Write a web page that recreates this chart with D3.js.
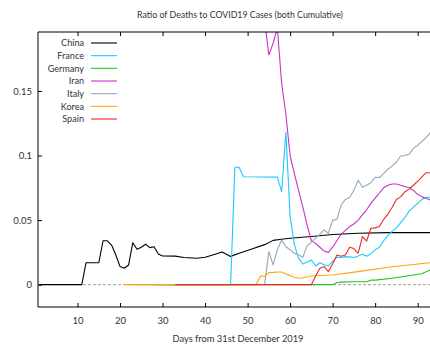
<!DOCTYPE html>
<html>
<meta charset="utf-8">
<style>
  body { margin: 0; background: #fff; }
  text { font-family: Lato, "Open Sans", sans-serif; fill: #333; }
  .series { fill: none; stroke-width: 1.1; stroke-linejoin: round; }
</style>
<body>
<script src="https://d3js.org/d3.v7.min.js"></script>
<script>
  let width = 430, height = 352;

  // [day, deaths / cases]
  let china = [[1,0],[11,0],[12,0.017],[15,0.017],[16,0.034],[17,0.034],[18,0.0307],[19,0.023],[20,0.014],
    [21,0.0127],[22,0.0152],[23,0.0325],[24,0.0274],[25,0.029],[26,0.0313],[27,0.0287],[28,0.0294],
    [29,0.0238],[30,0.0222],[33,0.0221],[35,0.021],[38,0.0204],[40,0.0212],[42,0.0232],[44,0.0253],
    [46,0.0219],[48,0.0243],[51,0.0276],[54,0.031],[56,0.0343],[58,0.0352],[60,0.036],[65,0.0373],
    [70,0.0388],[76,0.0398],[83,0.0403],[93,0.0403]];
  let france = [[24,0],[46,0],[47,0.0909],[48,0.0909],[49,0.0836],[57,0.0833],[58,0.072],[59,0.118],
    [60,0.0527],[61,0.031],[62,0.0204],[63,0.016],[64,0.0175],[65,0.019],[66,0.0145],[67,0.017],
    [68,0.0155],[69,0.0145],[70,0.018],[71,0.0212],[72,0.021],[73,0.0217],[74,0.0215],[75,0.021],
    [76,0.0222],[77,0.0235],[78,0.022],[79,0.024],[80,0.027],[81,0.029],[82,0.034],[83,0.038],
    [84,0.0415],[85,0.044],[86,0.048],[87,0.052],[88,0.057],[89,0.06],[90,0.063],[91,0.066],
    [92,0.0677],[93,0.0677]];
  let germany = [[28,0],[70,0],[71,0.0015],[72,0.002],[75,0.0023],[78,0.0023],[79,0.0035],[80,0.0035],
    [84,0.005],[89,0.0075],[91,0.0085],[92,0.01],[93,0.0114]];
  let iran = [[50,1],[51,0.4],[52,0.3],[53,0.22],[54,0.204],[55,0.178],[56,0.187],[57,0.199],[58,0.156],
    [59,0.132],[60,0.1],[61,0.086],[62,0.073],[63,0.06],[64,0.046],[65,0.034],[66,0.032],[67,0.029],
    [68,0.026],[69,0.025],[70,0.029],[71,0.034],[72,0.039],[73,0.042],[74,0.045],[75,0.047],[76,0.05],
    [77,0.054],[78,0.058],[79,0.063],[80,0.067],[81,0.071],[82,0.075],[83,0.077],[84,0.078],[85,0.078],
    [86,0.077],[87,0.076],[88,0.075],[89,0.073],[90,0.07],[91,0.068],[92,0.067],[93,0.0655]];
  let italy = [[31,0],[54,0],[55,0.0256],[56,0.0153],[57,0.027],[58,0.0346],[59,0.0294],[60,0.027],
    [61,0.0243],[62,0.023],[63,0.0212],[64,0.03],[65,0.033],[66,0.036],[67,0.039],[68,0.0424],
    [69,0.0398],[70,0.05],[71,0.0506],[72,0.0617],[73,0.066],[74,0.0677],[75,0.073],[76,0.081],
    [77,0.0754],[78,0.077],[79,0.079],[80,0.0832],[81,0.083],[82,0.086],[83,0.0894],[84,0.092],
    [85,0.095],[86,0.0997],[87,0.1],[88,0.101],[89,0.1056],[90,0.108],[91,0.111],[92,0.114],[93,0.1177]];
  let korea = [[21,0],[52,0],[53,0.0067],[54,0.0065],[55,0.0093],[56,0.0095],[57,0.0098],[58,0.0098],
    [59,0.0083],[60,0.007],[61,0.0058],[62,0.005],[63,0.0053],[64,0.006],[65,0.0067],[70,0.0075],
    [76,0.0101],[84,0.0139],[93,0.017]];
  let spain = [[33,0],[65,0],[66,0.0067],[67,0.0127],[68,0.014],[69,0.0101],[70,0.016],[71,0.023],
    [72,0.022],[73,0.023],[74,0.029],[75,0.028],[76,0.0243],[77,0.0372],[78,0.0338],[79,0.0437],
    [80,0.044],[81,0.045],[82,0.0506],[83,0.0547],[84,0.06],[85,0.066],[86,0.068],[87,0.072],
    [88,0.074],[89,0.077],[90,0.08],[91,0.0835],[92,0.0867],[93,0.0867]];

  let countries = ["China", "France", "Germany", "Iran", "Italy", "Korea", "Spain"];
  let seriesData = [china, france, germany, iran, italy, korea, spain];
  let colors = ["#000000", "#1ec8ff", "#1ec81e", "#c832c8", "#94a8b8", "#ffa50a", "#f0281e"];
  let xTicks = [10, 20, 30, 40, 50, 60, 70, 80, 90];
  let yTicks = [0, 0.05, 0.1, 0.15];

  let plotLeft = 38, plotTop = 32, plotRight = 431, plotBottom = 307;

  let x = d3.scaleLinear().domain([0.7, 92.9]).range([plotLeft, 430]);
  let y = d3.scaleLinear().domain([-0.0173, 0.1957]).range([plotBottom, plotTop]);

  let svg = d3.select("body").append("svg")
    .attr("width", width)
    .attr("height", height);

  svg.append("clipPath").attr("id", "plot")
    .append("rect")
    .attr("x", plotLeft).attr("y", plotTop)
    .attr("width", plotRight - plotLeft).attr("height", plotBottom - plotTop);

  // zero axis
  svg.append("line")
    .attr("x1", plotLeft).attr("x2", plotRight)
    .attr("y1", y(0)).attr("y2", y(0))
    .attr("stroke", "#a0a0a0")
    .attr("stroke-dasharray", "3,2");

  let line = d3.line()
    .x(d => x(d[0]))
    .y(d => y(d[1]));

  svg.append("g").attr("clip-path", "url(#plot)")
    .selectAll("path")
    .data(seriesData)
    .join("path")
    .attr("class", "series")
    .attr("stroke", (d, i) => colors[i])
    .attr("d", line);

  // frame
  svg.append("path")
    .attr("d", `M${plotRight},${plotTop}H${plotLeft}V${plotBottom}H${plotRight}`)
    .attr("fill", "none")
    .attr("stroke", "#000")
    .attr("stroke-width", 1);

  let xAxis = svg.append("g")
    .attr("transform", `translate(0,${plotBottom})`)
    .call(d3.axisBottom(x).tickValues(xTicks).tickSize(-4).tickPadding(10));
  xAxis.select(".domain").remove();
  xAxis.selectAll("text").attr("font-size", 9.5).style("font-family", "Lato, sans-serif").attr("fill", "#333");

  let xTop = svg.append("g")
    .attr("transform", `translate(0,${plotTop})`)
    .call(d3.axisTop(x).tickValues(xTicks).tickSize(-4).tickFormat(""));
  xTop.select(".domain").remove();

  let yAxis = svg.append("g")
    .attr("transform", `translate(${plotLeft},0)`)
    .call(d3.axisLeft(y).tickValues(yTicks).tickSize(-4).tickPadding(6).tickFormat(d => String(d)));
  yAxis.select(".domain").remove();
  yAxis.selectAll("text").attr("font-size", 9.5).style("font-family", "Lato, sans-serif").attr("fill", "#333");

  // title and axis label
  svg.append("text")
    .attr("x", 240).attr("y", 18)
    .attr("text-anchor", "middle")
    .attr("font-size", 8.8)
    .text("Ratio of Deaths to COVID19 Cases (both Cumulative)");

  svg.append("text")
    .attr("x", 238).attr("y", 342)
    .attr("text-anchor", "middle")
    .attr("font-size", 9.3)
    .text("Days from 31st December 2019");

  // legend
  let legend = svg.append("g");
  let rows = legend.selectAll("g")
    .data(countries)
    .join("g")
    .attr("transform", (d, i) => `translate(0,${43 + i * 12.67})`);
  rows.append("text")
    .attr("x", 84).attr("dy", "0.35em")
    .attr("text-anchor", "end")
    .attr("font-size", 9.1)
    .text(d => d);
  rows.append("line")
    .attr("x1", 91).attr("x2", 117)
    .attr("stroke", (d, i) => colors[i])
    .attr("stroke-width", 1.1);
</script>
</body>
</html>
